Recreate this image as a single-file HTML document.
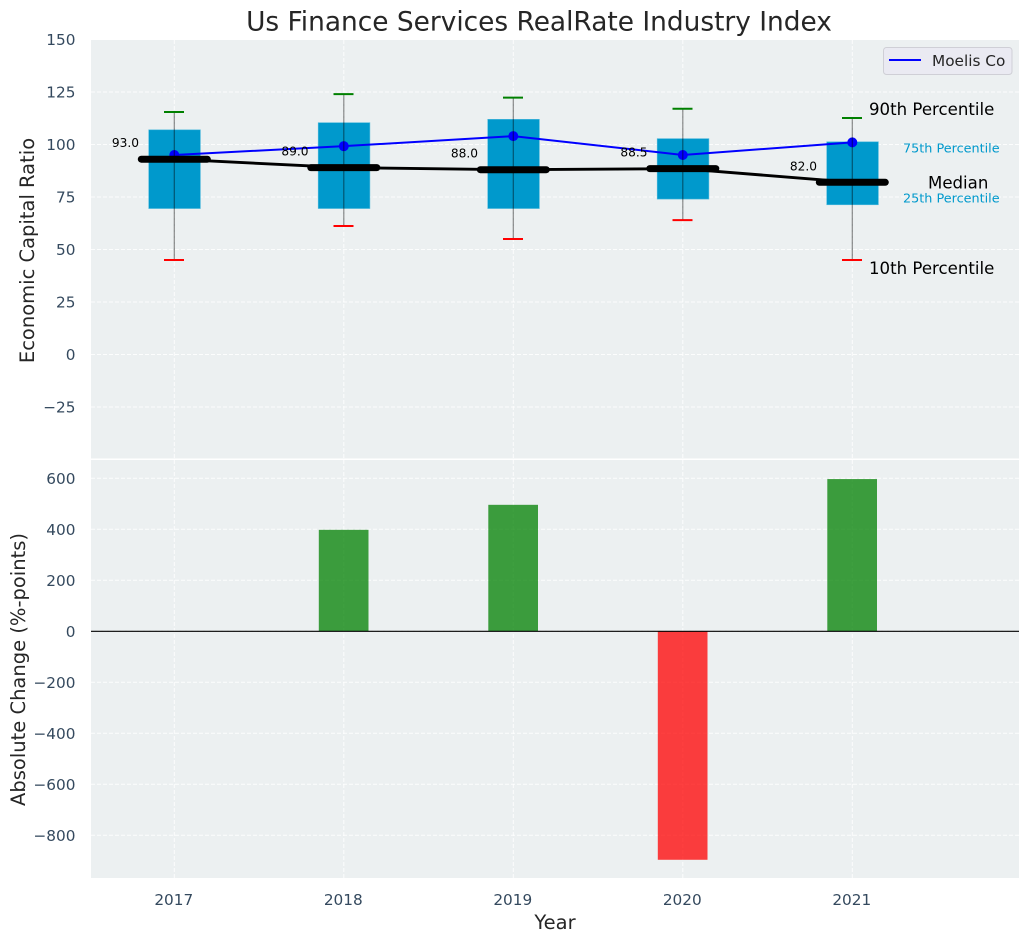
<!DOCTYPE html>
<html lang="en">
<head>
<meta charset="utf-8">
<title>Us Finance Services RealRate Industry Index</title>
<style>
html,body{margin:0;padding:0;background:#fff;}
svg{display:block;font-family:"DejaVu Sans","Liberation Sans",sans-serif;}
</style>
</head>
<body>
<svg id="chart" xmlns="http://www.w3.org/2000/svg" width="1029" height="942" viewBox="0 0 1029 942"></svg>
<script>
const years = [2017, 2018, 2019, 2020, 2021];
const p90 = [115.5, 124, 122.3, 117, 112.6];
const p75 = [107, 110.4, 112, 102.8, 101.3];
const median = [93, 89, 88, 88.5, 82];
const p25 = [69.5, 69.5, 69.5, 74, 71.3];
const p10 = [45, 61.2, 55, 64, 45];
const company = [95, 99.2, 104, 95, 101];
const changes = [0, 398, 496, -896, 597];
const topTicks = [150, 125, 100, 75, 50, 25, 0, -25];
const bottomTicks = [600, 400, 200, 0, -200, -400, -600, -800];
const medianLabels = ["93.0", "89.0", "88.0", "88.5", "82.0"];

const svg = document.getElementById('chart');
const NS = 'http://www.w3.org/2000/svg';
const L = 91, R = 1019, T1 = 40, B1 = 458.5, T2 = 460, B2 = 878;

function x(year) { return 174.3 + (year - 2017) * 169.5; }
function yTop(v) { return 354.5 - v * 2.1; }
function yBottom(v) { return 631.3 - v * 0.255; }
function make(tag, attrs, text) {
  const el = document.createElementNS(NS, tag);
  for (const k in attrs) el.setAttribute(k, attrs[k]);
  if (text !== undefined) el.textContent = text;
  svg.appendChild(el);
  return el;
}
function minus(v) { return v < 0 ? '\u2212' + Math.abs(v) : String(v); }

let el;
el = make('rect', {x: L, y: T1, width: R - L, height: B1 - T1, fill: '#ecf0f1'});


el = make('rect', {x: L, y: T2, width: R - L, height: B2 - T2, fill: '#ecf0f1'});



const gridStyle = {stroke: '#ffffff', 'stroke-width': 1, 'stroke-dasharray': '4 2', 'stroke-opacity': 0.85};

years.forEach(function (yr) {
  el = make('line', Object.assign({x1: x(yr), x2: x(yr), y1: T1, y2: B1}, gridStyle));
  
  
  el = make('line', Object.assign({x1: x(yr), x2: x(yr), y1: T2, y2: B2}, gridStyle));
  
  
  el = make('text', {x: x(yr) - 0.5, y: 905, 'text-anchor': 'middle', 'font-size': 15.3, fill: '#34495e'}, String(yr));
  
  
});

topTicks.forEach(function (t) {
  if (t !== 150) {
    el = make('line', Object.assign({x1: L, x2: R, y1: yTop(t), y2: yTop(t)}, gridStyle));
    
    
  }
  el = make('text', {x: 75.5, y: yTop(t) + 5.5, 'text-anchor': 'end', 'font-size': 15.3, fill: '#34495e'}, minus(t));
  
  
});

bottomTicks.forEach(function (t) {
  el = make('line', Object.assign({x1: L, x2: R, y1: yBottom(t), y2: yBottom(t)}, gridStyle));
  
  
  el = make('text', {x: 75.5, y: yBottom(t) + 5.5, 'text-anchor': 'end', 'font-size': 15.3, fill: '#34495e'}, minus(t));
  
  
});

/* interquartile boxes */
years.forEach(function (yr, i) {
  el = make('rect', {x: x(yr) - 25.6, y: yTop(p75[i]), width: 51.7, height: yTop(p25[i]) - yTop(p75[i]), fill: '#0099cc', stroke: '#55bbdd', 'stroke-width': 0.6});
  
  
});

/* median connecting line */
el = make('polyline', {points: years.map(function (yr, i) { return x(yr) + ',' + yTop(median[i]); }).join(' '), fill: 'none', stroke: '#000000', 'stroke-width': 2.9});



/* company line */
el = make('polyline', {points: years.map(function (yr, i) { return x(yr) + ',' + yTop(company[i]); }).join(' '), fill: 'none', stroke: '#0000ff', 'stroke-width': 2});



years.forEach(function (yr, i) {
  el = make('circle', {cx: x(yr), cy: yTop(company[i]), r: 5, fill: '#0000ff'});
  
  

  el = make('line', {x1: x(yr) - 33, x2: x(yr) + 33, y1: yTop(median[i]), y2: yTop(median[i]), stroke: '#000000', 'stroke-width': 7, 'stroke-linecap': 'round'});
  
  

  el = make('line', {x1: x(yr), x2: x(yr), y1: yTop(p90[i]), y2: yTop(p10[i]), stroke: '#000000', 'stroke-width': 1.2, 'stroke-opacity': 0.45});
  
  

  el = make('line', {x1: x(yr) - 10.3, x2: x(yr) + 9.7, y1: yTop(p90[i]), y2: yTop(p90[i]), stroke: '#008000', 'stroke-width': 2});
  
  

  el = make('line', {x1: x(yr) - 10.3, x2: x(yr) + 9.7, y1: yTop(p10[i]), y2: yTop(p10[i]), stroke: '#ff0000', 'stroke-width': 2});
  
  

  el = make('text', {x: x(yr) - 35.3, y: yTop(median[i]) - 12, 'text-anchor': 'end', 'font-size': 12.2, fill: '#000000'}, medianLabels[i]);
  
  
});

/* percentile annotations beside final year */
const last = years.length - 1;
el = make('text', {x: 869, y: yTop(p90[last]) - 3, 'font-size': 16.6, fill: '#000000'}, '90th Percentile');


el = make('text', {x: 869, y: yTop(p10[last]) + 14, 'font-size': 16.6, fill: '#000000'}, '10th Percentile');


el = make('text', {x: 928, y: yTop(median[last]) + 6, 'font-size': 16.6, fill: '#000000'}, 'Median');


el = make('text', {x: 903, y: yTop(p75[last]) + 10.5, 'font-size': 12.8, fill: '#0099cc'}, '75th Percentile');


el = make('text', {x: 903, y: yTop(p25[last]) - 2.5, 'font-size': 12.8, fill: '#0099cc'}, '25th Percentile');



/* absolute change bars */
years.forEach(function (yr, i) {
  const v = changes[i];
  const y0 = yBottom(Math.max(v, 0));
  const h = Math.abs(yBottom(v) - yBottom(0));
  el = make('rect', {x: x(yr) - 25, y: y0, width: 49.7, height: h, fill: v >= 0 ? '#008000' : '#ff0000', 'fill-opacity': 0.75});
  
  
});

el = make('line', {x1: L, x2: R, y1: yBottom(0), y2: yBottom(0), stroke: '#000000', 'stroke-width': 1.2});



/* legend */
el = make('rect', {x: 883.5, y: 47.5, width: 128.5, height: 27, rx: 3, fill: '#eaeaf2', stroke: '#cfcfd6', 'stroke-width': 1});


el = make('line', {x1: 889, x2: 921, y1: 60, y2: 60, stroke: '#0000ff', 'stroke-width': 2});


el = make('text', {x: 932, y: 66, 'font-size': 15.3, fill: '#262626'}, 'Moelis Co');



/* titles */
el = make('text', {x: 539, y: 30.5, 'text-anchor': 'middle', 'font-size': 26.4, fill: '#262626'}, 'Us Finance Services RealRate Industry Index');


el = make('text', {x: 555, y: 929, 'text-anchor': 'middle', 'font-size': 19.5, fill: '#262626'}, 'Year');


el = make('text', {x: 0, y: 0, transform: 'translate(34,250.5) rotate(-90)', 'text-anchor': 'middle', 'font-size': 19.5, fill: '#262626'}, 'Economic Capital Ratio');


el = make('text', {x: 0, y: 0, transform: 'translate(25,669.5) rotate(-90)', 'text-anchor': 'middle', 'font-size': 19.5, fill: '#262626'}, 'Absolute Change (%-points)');


</script>
</body>
</html>
